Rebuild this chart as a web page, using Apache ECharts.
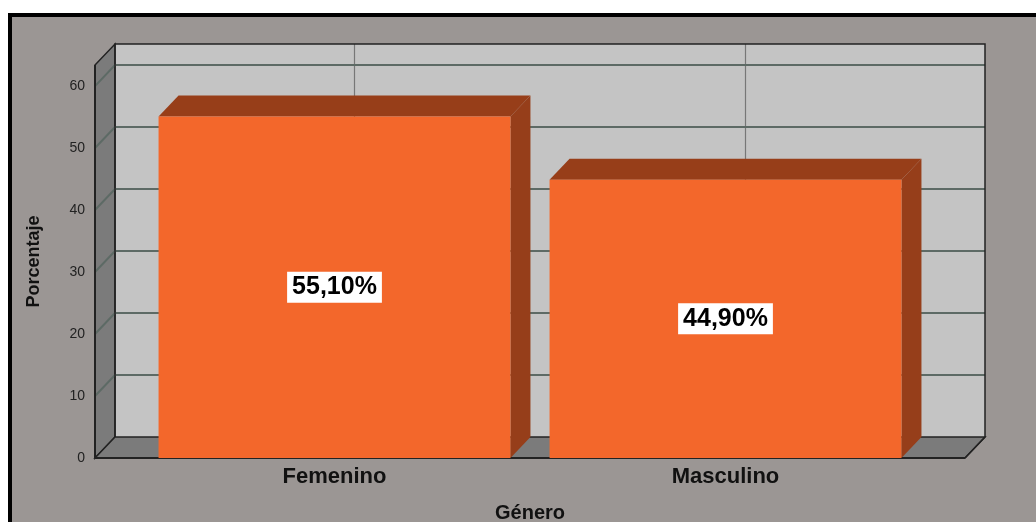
<!DOCTYPE html>
<html lang="es">
<head>
<meta charset="UTF-8">
<title>Género</title>
<script src="https://cdn.jsdelivr.net/npm/echarts@6/dist/echarts.min.js"></script>
<style>
    body { margin: 0; background: #fff; }
    #chart { width: 1036px; height: 522px; }
</style>
</head>
<body>
<div id="chart"></div>
<script>
    // datos
    const categories = ['Femenino', 'Masculino'];
    const values = [55.1, 44.9];
    const valueLabels = ['55,10%', '44,90%'];
    const yTicks = [0, 10, 20, 30, 40, 50, 60];

    // profundidad del efecto 3D
    const DX = 20, DY = -21, PAD = 44;
    const wallColor = '#7b7b7b';
    const gridColor = '#5d6a65';

    const chart = echarts.init(document.getElementById('chart'));

    function renderWalls(params, api) {
        const cs = params.coordSys;
        const x0 = cs.x - PAD, x1 = cs.x + cs.width + PAD;
        const yb = cs.y + cs.height, yt = cs.y;
        const children = [];
        // pared del fondo
        children.push({ type: 'rect', shape: { x: x0 + DX, y: yt + DY, width: x1 - x0, height: yb - yt },
            style: { fill: '#c4c4c4', stroke: 'none' } });
        // lineas verticales en el centro de cada categoria
        categories.forEach((c, i) => {
            const x = api.coord([i, 0])[0] + DX;
            children.push({ type: 'line', shape: { x1: x, y1: yt + DY, x2: x, y2: yb + DY },
                style: { stroke: '#777', lineWidth: 1.2 } });
        });
        // pared izquierda y suelo
        children.push({ type: 'polygon', shape: { points: [[x0, yb], [x0, yt], [x0 + DX, yt + DY], [x0 + DX, yb + DY]] },
            style: { fill: wallColor, stroke: '#222', lineWidth: 1.5 } });
        children.push({ type: 'polygon', shape: { points: [[x0, yb], [x0 + DX, yb + DY], [x1 + DX, yb + DY], [x1, yb]] },
            style: { fill: wallColor, stroke: '#222', lineWidth: 1.5 } });
        // lineas de la cuadricula
        yTicks.forEach(v => {
            if (v === 0) return;
            const y = api.coord([0, v])[1];
            children.push({ type: 'polyline', shape: { points: [[x0, y], [x0 + DX, y + DY], [x1 + DX, y + DY]] },
                style: { stroke: gridColor, lineWidth: 2, fill: 'none' } });
        });
        // bordes
        children.push({ type: 'polyline', shape: { points: [[x0 + DX, yb + DY], [x0 + DX, yt + DY], [x1 + DX, yt + DY], [x1 + DX, yb + DY], [x1, yb]] },
            style: { stroke: '#222', lineWidth: 1.5, fill: 'none' } });
        children.push({ type: 'line', shape: { x1: x0, y1: yb, x2: x1, y2: yb },
            style: { stroke: '#222', lineWidth: 2 } });
        children.push({ type: 'line', shape: { x1: x0, y1: yb, x2: x0, y2: yt },
            style: { stroke: '#222', lineWidth: 2 } });
        return { type: 'group', children };
    }

    function renderBar(params, api) {
        const i = api.value(0);
        const top = api.coord([i, api.value(1)]);
        const base = api.coord([i, 0]);
        const w = api.size([1, 0])[0] * 0.9;
        const xa = top[0] - w / 2, xb = top[0] + w / 2;
        const yt = top[1], yb = base[1];
        return {
            type: 'group',
            children: [
                { type: 'polygon', shape: { points: [[xa, yt], [xa + DX, yt + DY], [xb + DX, yt + DY], [xb, yt]] },
                    style: { fill: '#973e19' } },
                { type: 'polygon', shape: { points: [[xb, yt], [xb + DX, yt + DY], [xb + DX, yb + DY], [xb, yb]] },
                    style: { fill: '#963e1a' } },
                { type: 'rect', shape: { x: xa, y: yt, width: w, height: yb - yt },
                    style: { fill: '#f3672b' } },
                { type: 'text', x: top[0], y: (yt + yb) / 2,
                    style: { text: valueLabels[i], fill: '#000', font: 'bold 25px "Liberation Sans", Arial, sans-serif',
                        align: 'center', verticalAlign: 'middle', backgroundColor: '#fff', padding: [4, 5, 2, 5] } }
            ]
        };
    }

    chart.setOption({
        backgroundColor: '#fff',
        animation: false,
        graphic: [{
            type: 'rect', z: 0, silent: true,
            shape: { x: 10, y: 15, width: 1100, height: 600 },
            style: { fill: '#9b9694', stroke: '#000', lineWidth: 4 }
        }],
        grid: { left: 139, top: 65, width: 782, height: 393, outerBoundsMode: 'none', containLabel: false },
        xAxis: {
            type: 'category',
            data: categories,
            axisLine: { show: false },
            axisTick: { show: false },
            axisLabel: { color: '#111', fontSize: 22, fontWeight: 'bold', margin: 8, fontFamily: 'Liberation Sans' },
            name: 'Género',
            nameLocation: 'middle',
            nameGap: 45,
            nameTextStyle: { color: '#111', fontSize: 20, fontWeight: 'bold', fontFamily: 'Liberation Sans' }
        },
        yAxis: {
            type: 'value',
            min: 0,
            max: 63.4,
            interval: 10,
            offset: PAD,
            axisLine: { show: false },
            axisTick: { show: false },
            splitLine: { show: false },
            axisLabel: { color: '#222', fontSize: 14, margin: 10, fontFamily: 'Liberation Sans',
                showMaxLabel: false },
            name: 'Porcentaje',
            nameLocation: 'middle',
            nameGap: 52,
            nameTextStyle: { color: '#111', fontSize: 18, fontWeight: 'bold', fontFamily: 'Liberation Sans' }
        },
        series: [
            { type: 'custom', renderItem: renderWalls, data: [[0, 0]], silent: true, clip: false },
            { type: 'custom', renderItem: renderBar, data: values.map((v, i) => [i, v]), clip: false }
        ]
    });
</script>
</body>
</html>
